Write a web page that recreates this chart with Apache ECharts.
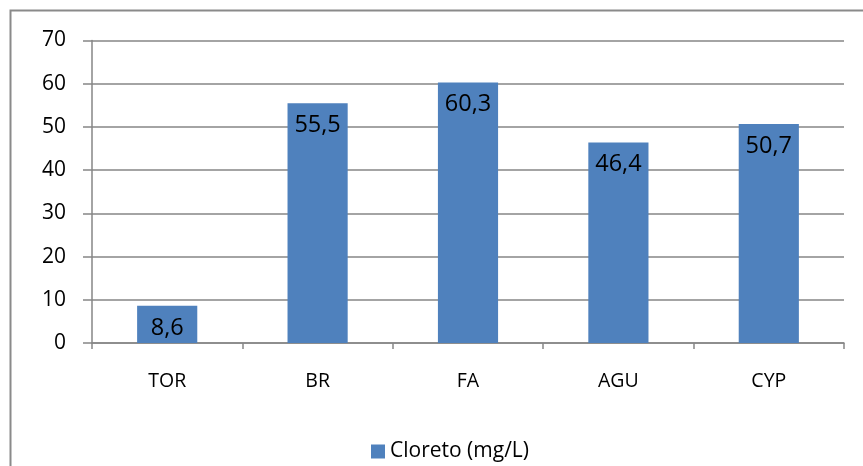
<!DOCTYPE html>
<html>
<head>
<meta charset="utf-8">
<script src="https://cdn.jsdelivr.net/npm/echarts@6/dist/echarts.min.js"></script>
<style>
html,body{margin:0;padding:0;background:#fff;}
#c{width:863px;height:466px;}
</style>
</head>
<body>
<div id="c"></div>
<script>
var categories = ['TOR', 'BR', 'FA', 'AGU', 'CYP'];
var seriesName = 'Cloreto (mg/L)';
var values = [8.6, 55.5, 60.3, 46.4, 50.7];
var yMin = 0, yMax = 70, yStep = 10;

var FONT = '"Open Sans", "Noto Sans", sans-serif';
var chart = echarts.init(document.getElementById('c'));
chart.setOption({
  animation: false,
  backgroundColor: '#ffffff',
  textStyle: { fontFamily: FONT },
  graphic: [{
    type: 'rect',
    shape: { x: 10.5, y: 10.5, width: 900, height: 500 },
    style: { fill: 'none', stroke: '#8a8a8a', lineWidth: 2 },
    silent: true
  }],
  grid: { left: 92, right: 19, top: 40.5, bottom: 123, containLabel: false },
  legend: {
    left: 366,
    top: 436,
    itemWidth: 14,
    itemHeight: 14,
    icon: 'rect',
    itemGap: 8,
    textStyle: { fontFamily: FONT, fontSize: 21, color: '#000' },
    data: [seriesName]
  },
  xAxis: {
    type: 'category',
    data: categories,
    axisLine: { lineStyle: { color: '#868686', width: 1.5 } },
    axisTick: { show: true, length: 6, alignWithLabel: false, lineStyle: { color: '#868686', width: 1.5 } },
    axisLabel: { color: '#000', fontSize: 19.5, fontFamily: FONT, margin: 28 }
  },
  yAxis: {
    type: 'value',
    min: yMin, max: yMax, interval: yStep,
    axisLine: { show: true, lineStyle: { color: '#868686', width: 1.5 } },
    axisTick: { show: true, length: 9, lineStyle: { color: '#868686', width: 1.5 } },
    splitLine: { show: true, lineStyle: { color: '#868686', width: 1.5 } },
    axisLabel: { color: '#000', fontSize: 21, fontFamily: FONT, margin: 26 }
  },
  series: [{
    name: seriesName,
    type: 'bar',
    data: values,
    barWidth: '40%',
    itemStyle: { color: '#4F81BD' },
    label: {
      show: true,
      position: 'insideTop',
      distance: 10,
      color: '#000',
      fontSize: 23.5,
      fontFamily: FONT,
      formatter: function (p) { return String(p.value).replace('.', ','); }
    }
  }]
});
</script>
</body>
</html>
